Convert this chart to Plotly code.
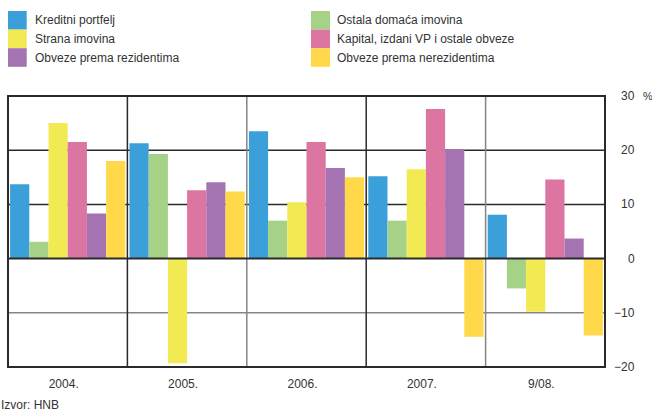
import plotly.graph_objects as go

categories = ["2004.", "2005.", "2006.", "2007.", "9/08."]
series_names = [
    "Kreditni portfelj",
    "Ostala domaća imovina",
    "Strana imovina",
    "Kapital, izdani VP i ostale obveze",
    "Obveze prema rezidentima",
    "Obveze prema nerezidentima",
]
kreditni = [13.7, 21.3, 23.5, 15.2, 8.1]
ostala = [3.1, 19.3, 7.0, 7.0, -5.5]
strana = [25.0, -19.3, 10.4, 16.5, -9.8]
kapital = [21.5, 12.6, 21.5, 27.6, 14.6]
rezidenti = [8.3, 14.1, 16.7, 20.2, 3.7]
nerezidenti = [18.0, 12.4, 15.0, -14.4, -14.2]
series_values = [kreditni, ostala, strana, kapital, rezidenti, nerezidenti]
colors = ["#3BA0DA", "#A5D286", "#F2EA52", "#DC75A2", "#A374B1", "#FFD94A"]
y_ticks = [30, 20, 10, 0, -10, -20]
y_tick_labels = ["30", "20", "10", "0", "\u221210", "\u221220"]
source_text = "Izvor: HNB"

FONT = "Liberation Sans, Arial, sans-serif"
TXT = "#333333"
W, H = 652, 413
ML, MR, MT, MB = 8, 47, 96, 46
PW, PH = W - ML - MR, H - MT - MB


def px(xp):
    return (xp - ML) / PW


def py(yp):
    return (H - MB - yp) / PH


fig = go.Figure()
for name, vals, col in zip(series_names, series_values, colors):
    fig.add_trace(go.Bar(x=list(range(len(categories))), y=vals, name=name,
                         marker=dict(color=col, line=dict(width=0)),
                         showlegend=False))

fig.update_layout(
    width=W, height=H,
    margin=dict(l=ML, r=MR, t=MT, b=MB),
    paper_bgcolor="white", plot_bgcolor="white",
    barmode="group", bargap=0.035, bargroupgap=0,
    font=dict(family=FONT, size=12, color=TXT),
    xaxis=dict(range=[-0.5, len(categories) - 0.5], tickvals=list(range(len(categories))),
               ticktext=categories, showgrid=False, zeroline=False, showline=False,
               ticks="outside", ticklen=6, tickcolor="rgba(0,0,0,0)", ticklabelshift=-4,
               tickfont=dict(size=12, color=TXT)),
    yaxis=dict(range=[-20, 30], side="right", tickvals=y_ticks, showticklabels=False,
               showgrid=False, zeroline=False, showline=False, ticks=""),
)

# horizontal grid lines
grid_styles = {20: ("#2a2a2a", 1.5), 10: ("#2a2a2a", 1.5), -10: ("#858585", 1.5)}
for yv, (c, w) in grid_styles.items():
    fig.add_shape(type="line", xref="paper", yref="y", x0=0, x1=1, y0=yv, y1=yv,
                  line=dict(color=c, width=w), layer="below")
# vertical separators between categories
for k in range(1, len(categories)):
    c = "#2a2a2a" if k % 2 == 1 else "#858585"
    fig.add_shape(type="line", xref="x", yref="paper", x0=k - 0.5, x1=k - 0.5, y0=0, y1=1,
                  line=dict(color=c, width=1.5), layer="below")
# zero line on top
fig.add_shape(type="line", xref="paper", yref="y", x0=0, x1=1, y0=0, y1=0,
              line=dict(color="#2a2a2a", width=2), layer="above")
# frame
fig.add_shape(type="rect", xref="paper", yref="paper", x0=0, x1=1, y0=0, y1=1,
              line=dict(color="#2a2a2a", width=2), layer="above")

# right-aligned y tick labels
for v, t in zip(y_ticks, y_tick_labels):
    fig.add_annotation(xref="paper", yref="y", x=px(637), y=v, text=t,
                       showarrow=False, xanchor="right", yanchor="middle",
                       font=dict(size=12, color=TXT))
fig.add_annotation(xref="paper", yref="y", x=px(641), y=30, text="%",
                   showarrow=False, xanchor="left", yanchor="middle",
                   font=dict(size=11, color=TXT))

# manual legend (two columns)
row_h = 18.6
top = 11
cols_x = [(8, 26.7, 35), (311, 330, 336.5)]
for i, (name, col) in enumerate(zip(series_names, colors)):
    c = i % 2
    r = i // 2
    sx0, sx1, tx = cols_x[c]
    y0 = top + r * row_h
    fig.add_shape(type="rect", xref="paper", yref="paper",
                  x0=px(sx0), x1=px(sx1), y0=py(y0 + row_h), y1=py(y0),
                  fillcolor=col, line=dict(width=0))
    fig.add_annotation(xref="paper", yref="paper", x=px(tx), y=py(y0 + row_h / 2),
                       text=name, showarrow=False, xanchor="left", yanchor="middle",
                       xshift=-2, font=dict(size=12, color=TXT))

fig.add_annotation(xref="paper", yref="paper", x=px(1), y=py(405), text=source_text,
                   showarrow=False, xanchor="left", yanchor="middle", xshift=-2,
                   font=dict(size=12, color=TXT))

fig.write_html("out.html", config={"displayModeBar": False},
               post_script="document.body.style.margin='0px';")
